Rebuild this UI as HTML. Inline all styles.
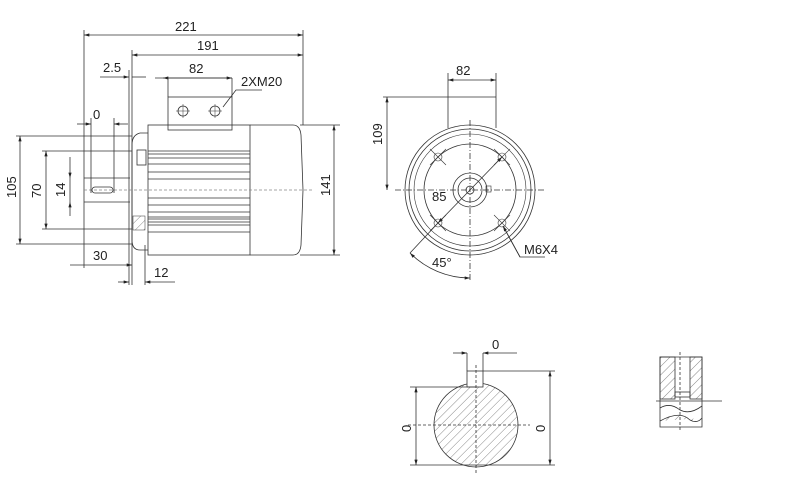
<!DOCTYPE html>
<html><head><style>body{margin:0;background:#fff}svg{display:block}text{font-family:"Liberation Sans",sans-serif;font-size:13px;fill:#222}</style></head><body>
<svg width="800" height="492" viewBox="0 0 800 492" xmlns="http://www.w3.org/2000/svg">
<defs>
<marker id="a" viewBox="0 0 10 6" refX="10" refY="3" markerWidth="8" markerHeight="4" orient="auto-start-reverse"><path d="M0,0L10,3L0,6z" fill="#222"/></marker>
<pattern id="h" width="6" height="6" patternUnits="userSpaceOnUse" patternTransform="rotate(45)"><line x1="0" y1="0" x2="0" y2="6" stroke="#555" stroke-width="0.7"/></pattern>
</defs>
<g stroke="#333" stroke-width="0.8" fill="none">
<line x1="84" y1="30" x2="84" y2="268"/>
<line x1="303" y1="30" x2="303" y2="125"/>
<line x1="84" y1="35" x2="303" y2="35" marker-start="url(#a)" marker-end="url(#a)"/>
<line x1="132" y1="50" x2="132" y2="285"/>
<line x1="132" y1="55" x2="303" y2="55" marker-start="url(#a)" marker-end="url(#a)"/>
<line x1="100" y1="77" x2="129" y2="77" marker-end="url(#a)"/>
<line x1="132" y1="77" x2="146" y2="77"/>
<line x1="129" y1="70" x2="129" y2="285"/>
<line x1="155" y1="78" x2="232" y2="78"/>
<line x1="163" y1="78" x2="232" y2="78" marker-start="url(#a)" marker-end="url(#a)"/>
<line x1="168" y1="78" x2="168" y2="97"/><line x1="232" y1="78" x2="232" y2="97"/>
<polyline points="223,107 236,90 262,90"/>
<rect x="168" y="97" width="64" height="33"/>
<circle cx="183" cy="111" r="5"/><circle cx="215" cy="111" r="5"/>
<path d="M176,111h14M183,104v14M208,111h14M215,104v14" stroke-width="0.5"/>
<rect x="148" y="125" width="102" height="130"/>
<path d="M250,125H293Q300,125 301,135L303,190L301,245Q300,255 293,255H250"/>
<path d="M148,133H140Q132,135 132,145V240Q132,250 140,250H148"/>
<rect x="137" y="150" width="9" height="15"/>
<path d="M148,151H250M148,154H250M148,158H250M148,164H250M148,172H250M148,179H250M148,198H250M148,205H250M148,212H250M148,217H250M148,219H250M148,222H250M148,225H250M148,232H250" stroke-width="0.7"/>
<rect x="133" y="216" width="12" height="14" fill="url(#h)" stroke-width="0.5"/>
<line x1="84" y1="190" x2="312" y2="190" stroke-dasharray="3,2" stroke="#888"/>
<line x1="84" y1="178" x2="130" y2="178"/><line x1="84" y1="202" x2="130" y2="202"/>
<rect x="92" y="187" width="21" height="6" rx="3"/>
<line x1="91" y1="118" x2="91" y2="193"/><line x1="114" y1="118" x2="114" y2="193"/>
<line x1="77" y1="124" x2="91" y2="124" marker-end="url(#a)"/><line x1="114" y1="124" x2="128" y2="124" marker-start="url(#a)"/>
<line x1="16" y1="136" x2="132" y2="136"/><line x1="16" y1="244" x2="132" y2="244"/>
<line x1="20" y1="136" x2="20" y2="244" marker-start="url(#a)" marker-end="url(#a)"/>
<line x1="42" y1="151" x2="132" y2="151"/><line x1="42" y1="229" x2="132" y2="229"/>
<line x1="46" y1="151" x2="46" y2="229" marker-start="url(#a)" marker-end="url(#a)"/>
<line x1="70" y1="157" x2="70" y2="178" marker-end="url(#a)"/><line x1="70" y1="178" x2="70" y2="202"/><line x1="70" y1="202" x2="70" y2="216" marker-start="url(#a)"/>
<line x1="70" y1="265" x2="132" y2="265" marker-end="url(#a)"/>
<line x1="118" y1="282" x2="129" y2="282" marker-end="url(#a)"/><line x1="145" y1="282" x2="175" y2="282" marker-start="url(#a)"/>
<line x1="145" y1="245" x2="145" y2="285"/>
<line x1="300" y1="125" x2="340" y2="125"/><line x1="300" y1="255" x2="340" y2="255"/>
<line x1="334" y1="125" x2="334" y2="255" marker-start="url(#a)" marker-end="url(#a)"/>
<line x1="448" y1="73" x2="448" y2="128"/><line x1="496" y1="73" x2="496" y2="128"/>
<line x1="448" y1="80" x2="496" y2="80" marker-start="url(#a)" marker-end="url(#a)"/>
<line x1="383" y1="97" x2="496" y2="97"/>
<line x1="387" y1="97" x2="387" y2="190" marker-start="url(#a)" marker-end="url(#a)"/>
<circle cx="470" cy="190" r="65"/><circle cx="470" cy="190" r="61"/><circle cx="470" cy="190" r="56" stroke-width="0.6"/><circle cx="470" cy="190" r="46"/>
<circle cx="470" cy="190" r="17"/><circle cx="470" cy="190" r="12"/><circle cx="470" cy="190" r="4"/>
<rect x="486" y="186" width="5" height="6" stroke-width="0.6"/>
<g stroke-width="0.6"><circle cx="438" cy="157" r="4"/><circle cx="502" cy="157" r="4"/><circle cx="438" cy="223" r="4"/><circle cx="502" cy="223" r="4"/>
<path d="M430,149l16,16M446,149l-16,16M494,149l16,16M510,149l-16,16M430,215l16,16M446,215l-16,16M494,215l16,16M510,215l-16,16"/></g>
<line x1="395" y1="190" x2="545" y2="190" stroke-dasharray="6,2,1,2"/>
<line x1="470" y1="120" x2="470" y2="282" stroke-dasharray="6,2,1,2"/>
<line x1="438" y1="223" x2="502" y2="157" marker-start="url(#a)" marker-end="url(#a)"/>
<line x1="438" y1="223" x2="410" y2="253"/>
<polyline points="503,226 520,257 545,257" /><line x1="503" y1="226" x2="520" y2="257" marker-start="url(#a)"/>
<path d="M410,253A85,85 0 0 0 470,278" marker-start="url(#a)" marker-end="url(#a)"/>
<circle cx="476" cy="425" r="42" fill="url(#h)"/>
<rect x="467" y="371" width="16" height="16" fill="#fff"/>
<line x1="408" y1="425" x2="530" y2="425" stroke-dasharray="3,2"/>
<line x1="476" y1="365" x2="476" y2="475" stroke-dasharray="3,2"/>
<line x1="453" y1="353" x2="467" y2="353" marker-end="url(#a)"/><line x1="483" y1="353" x2="517" y2="353" marker-start="url(#a)"/>
<line x1="467" y1="353" x2="467" y2="371"/><line x1="483" y1="353" x2="483" y2="371"/>
<line x1="410" y1="387" x2="476" y2="387"/><line x1="483" y1="371" x2="555" y2="371"/><line x1="410" y1="465" x2="555" y2="465"/>
<line x1="416" y1="387" x2="416" y2="465" marker-start="url(#a)" marker-end="url(#a)"/>
<line x1="550" y1="371" x2="550" y2="465" marker-start="url(#a)" marker-end="url(#a)"/>
<rect x="660" y="357" width="15" height="42" fill="url(#h)"/><rect x="690" y="357" width="12" height="42" fill="url(#h)"/>
<path d="M660,357H702V427H660Z"/>
<rect x="675" y="392" width="15" height="5"/>
<path d="M660,408Q670,402 680,410Q690,415 702,406" />
<path d="M660,421Q680,410 690,420Q697,424 702,418" fill="url(#h)"/>
<line x1="656" y1="401" x2="722" y2="401"/>
<line x1="680" y1="352" x2="680" y2="430" stroke-dasharray="3,2"/>
</g>
<text x="175" y="31">221</text>
<text x="197" y="50">191</text>
<text x="103" y="72">2.5</text>
<text x="189" y="73">82</text>
<text x="241" y="86">2XM20</text>
<text x="93" y="119">0</text>
<text x="93" y="260">30</text>
<text x="154" y="277">12</text>
<text transform="translate(16,198) rotate(-90)">105</text>
<text transform="translate(41,198) rotate(-90)">70</text>
<text transform="translate(65,197) rotate(-90)">14</text>
<text transform="translate(330,196) rotate(-90)">141</text>
<text x="456" y="75">82</text>
<text transform="translate(382,145) rotate(-90)">109</text>
<text x="432" y="201">85</text>
<text x="524" y="254">M6X4</text>
<text x="432" y="267">45°</text>
<text x="492" y="349">0</text>
<text transform="translate(411,432) rotate(-90)">0</text>
<text transform="translate(545,432) rotate(-90)">0</text>
</svg>
</body></html>
